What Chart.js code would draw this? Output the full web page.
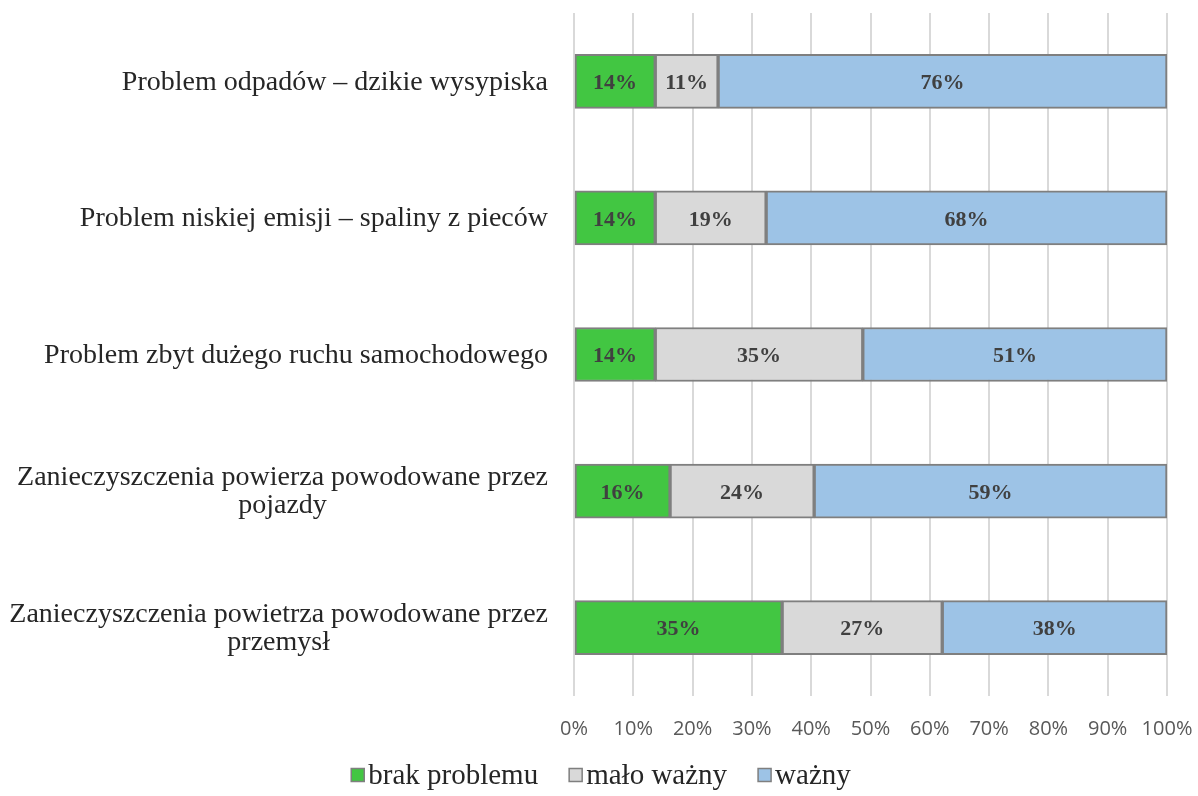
<!DOCTYPE html>
<html>
<head>
<meta charset="utf-8">
<script src="https://cdn.jsdelivr.net/npm/chart.js@4/dist/chart.umd.min.js"></script>
<style>
  html, body { margin: 0; padding: 0; background: #fff; }
  #wrap { width: 1198px; height: 796px; }
</style>
</head>
<body>
<div id="wrap"><canvas id="problemsChart" width="1198" height="796"></canvas></div>
<script>
// categories (multi-line ones split into lines)
const categories = [
  ["Problem odpadów – dzikie wysypiska"],
  ["Problem niskiej emisji – spaliny z pieców"],
  ["Problem zbyt dużego ruchu samochodowego"],
  ["Zanieczyszczenia powierza powodowane przez", "pojazdy"],
  ["Zanieczyszczenia powietrza powodowane przez", "przemysł"]
];

// shares in %
const brakProblemu = [13.7, 13.7, 13.7, 16.2, 35.1];
const maloWazny = [10.6, 18.7, 35.0, 24.3, 27.0];
const wazny = [75.7, 67.6, 51.3, 59.5, 37.9];

// printed labels
const brakLabels = ["14%", "14%", "14%", "16%", "35%"];
const maloLabels = ["11%", "19%", "35%", "24%", "27%"];
const waznyLabels = ["76%", "68%", "51%", "59%", "38%"];

const xTicks = [0, 10, 20, 30, 40, 50, 60, 70, 80, 90, 100];

const serif = "'Liberation Serif', 'Times New Roman', serif";

// category labels: block right-aligned, lines centered inside block
const categoryLabels = {
  id: "categoryLabels",
  afterDraw(chart) {
    const ctx = chart.ctx;
    const yScale = chart.scales.y;
    const right = chart.chartArea.left - 26;
    ctx.save();
    ctx.font = "28px " + serif;
    ctx.fillStyle = "#262626";
    ctx.textBaseline = "middle";
    ctx.textAlign = "center";
    const lineH = 28;
    categories.forEach((lines, i) => {
      const y = yScale.getPixelForTick(i);
      const w = Math.max(...lines.map(l => ctx.measureText(l).width));
      const cx = right - w / 2;
      lines.forEach((l, j) => {
        ctx.fillText(l, cx, y + 1 + (j - (lines.length - 1) / 2) * lineH);
      });
    });
    ctx.restore();
  }
};

// value labels inside the bar segments
const valueLabels = {
  id: "valueLabels",
  afterDatasetsDraw(chart) {
    const ctx = chart.ctx;
    ctx.save();
    ctx.font = "bold 22px " + serif;
    ctx.fillStyle = "#404040";
    ctx.textAlign = "center";
    ctx.textBaseline = "middle";
    chart.data.datasets.forEach((ds, di) => {
      chart.getDatasetMeta(di).data.forEach((bar, i) => {
        const p = bar.getProps(["x", "y", "base"], true);
        ctx.fillText(ds.valueLabels[i], (p.x + p.base) / 2, p.y + 2);
      });
    });
    ctx.restore();
  }
};

// legend at the bottom, small gap between box and text
const bottomLegend = {
  id: "bottomLegend",
  afterDraw(chart) {
    const ctx = chart.ctx;
    const box = 13, gapText = 4, gapItem = 31, y = 776;
    ctx.save();
    ctx.font = "29px " + serif;
    ctx.textBaseline = "middle";
    ctx.textAlign = "left";
    const items = chart.data.datasets.map(ds => ({ ds, w: ctx.measureText(ds.label).width }));
    const total = items.reduce((s, it) => s + box + gapText + it.w, 0) + gapItem * (items.length - 1);
    let x = 601 - total / 2;
    items.forEach(it => {
      ctx.fillStyle = it.ds.backgroundColor;
      ctx.fillRect(x, y - box / 2 - 1, box, box);
      ctx.strokeStyle = "#7f7f7f";
      ctx.lineWidth = 1.5;
      ctx.strokeRect(x, y - box / 2 - 1, box, box);
      ctx.fillStyle = "#262626";
      ctx.fillText(it.ds.label, x + box + gapText, y);
      x += box + gapText + it.w + gapItem;
    });
    ctx.restore();
  }
};

new Chart(document.getElementById("problemsChart").getContext("2d"), {
  type: "bar",
  data: {
    labels: categories.map(c => c.join(" ")),
    datasets: [
      { label: "brak problemu", data: brakProblemu, valueLabels: brakLabels, backgroundColor: "#42c642" },
      { label: "mało ważny", data: maloWazny, valueLabels: maloLabels, backgroundColor: "#d9d9d9" },
      { label: "ważny", data: wazny, valueLabels: waznyLabels, backgroundColor: "#9dc3e6" }
    ].map(ds => Object.assign(ds, {
      borderColor: "#7f7f7f",
      borderWidth: 2,
      borderSkipped: false,
      barThickness: 54
    }))
  },
  options: {
    indexAxis: "y",
    responsive: false,
    animation: false,
    layout: { padding: { top: 13, right: 31, bottom: 55, left: 0 } },
    plugins: {
      tooltip: { enabled: false },
      legend: { display: false }
    },
    scales: {
      x: {
        stacked: true,
        min: 0,
        max: 100,
        afterBuildTicks(scale) { scale.ticks = xTicks.map(v => ({ value: v })); },
        afterFit(scale) {
          scale.paddingLeft = 0;
          scale.paddingRight = 0;
          scale.height = 45;
        },
        ticks: {
          callback: v => v + "%",
          font: { family: "'Open Sans', sans-serif", size: 20 },
          color: "#595959",
          padding: 21,
          maxRotation: 0,
          autoSkip: false
        },
        grid: { color: "#d9d9d9", lineWidth: 2, drawTicks: false },
        border: { display: false }
      },
      y: {
        stacked: true,
        ticks: { display: false },
        grid: { display: false },
        border: { display: false },
        afterFit(scale) { scale.width = 574; }
      }
    }
  },
  plugins: [categoryLabels, valueLabels, bottomLegend]
});
</script>
</body>
</html>
